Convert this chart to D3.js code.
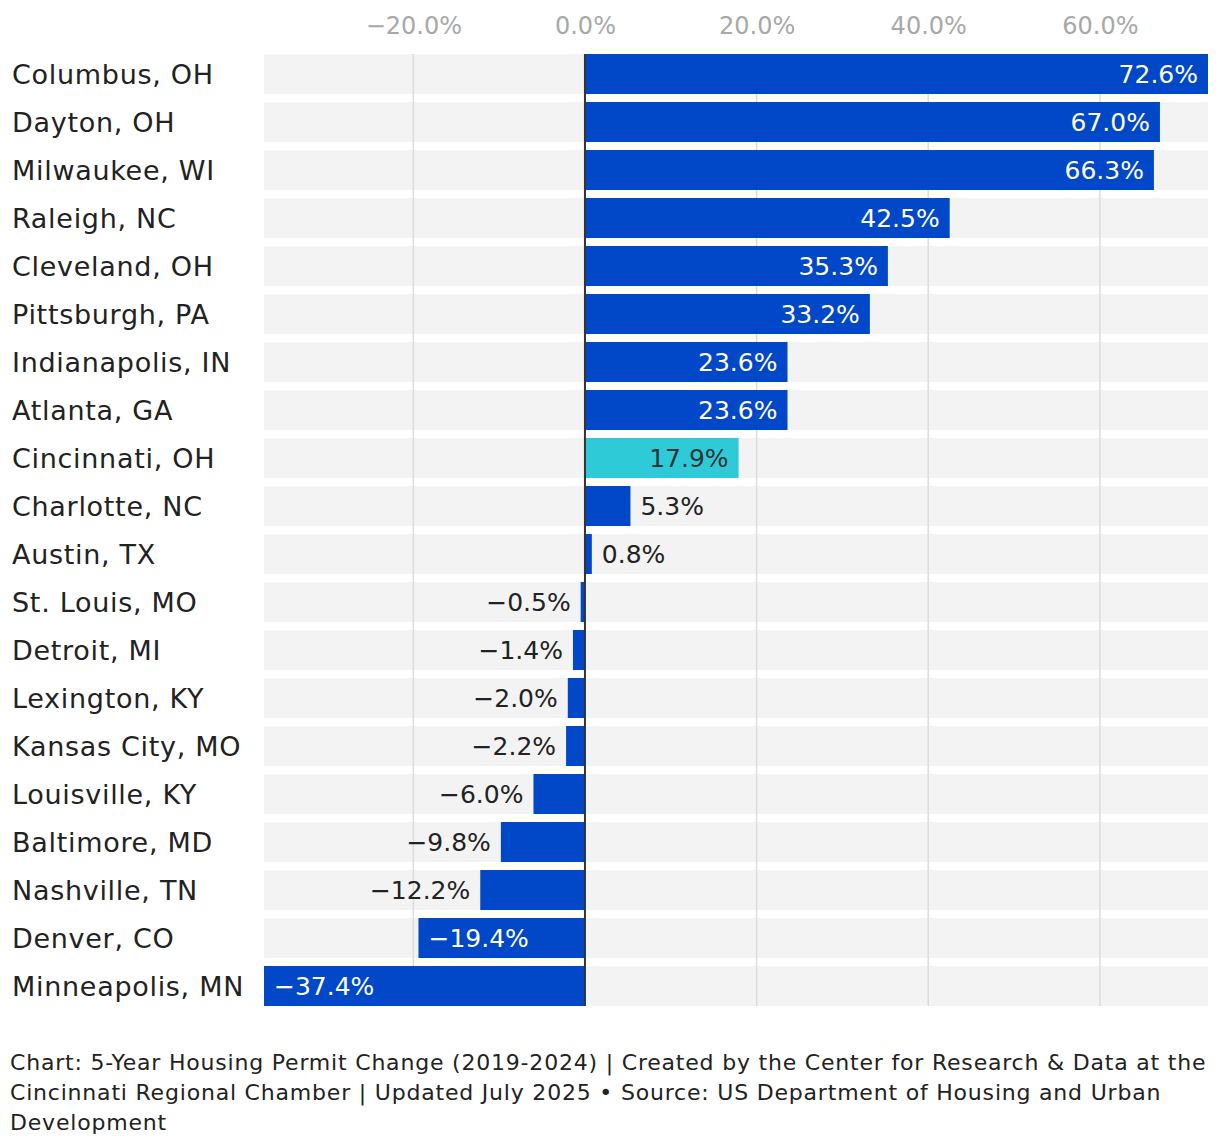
<!DOCTYPE html>
<html>
<head>
<meta charset="utf-8">
<script src="https://d3js.org/d3.v7.min.js"></script>
<style>
  body { margin: 0; background: #fff; }
  text { font-family: "DejaVu Sans", sans-serif; }
</style>
</head>
<body>
<svg width="1220" height="1146"></svg>
<script>
// Data
const cities = ["Columbus, OH", "Dayton, OH", "Milwaukee, WI", "Raleigh, NC", "Cleveland, OH",
  "Pittsburgh, PA", "Indianapolis, IN", "Atlanta, GA", "Cincinnati, OH", "Charlotte, NC",
  "Austin, TX", "St. Louis, MO", "Detroit, MI", "Lexington, KY", "Kansas City, MO",
  "Louisville, KY", "Baltimore, MD", "Nashville, TN", "Denver, CO", "Minneapolis, MN"];
const change = [72.6, 67.0, 66.3, 42.5, 35.3, 33.2, 23.6, 23.6, 17.9, 5.3,
  0.8, -0.5, -1.4, -2.0, -2.2, -6.0, -9.8, -12.2, -19.4, -37.4];
const tickValues = [-20, 0, 20, 40, 60];
const highlight = "Cincinnati, OH";
const footer = [
  "Chart: 5-Year Housing Permit Change (2019-2024) | Created by the Center for Research & Data at the",
  "Cincinnati Regional Chamber | Updated July 2025 \u2022 Source: US Department of Housing and Urban",
  "Development"
];

const rows = cities.map((c, i) => ({ city: c, value: change[i] }));

const svg = d3.select("svg");
const plotLeft = 264, plotRight = 1208, plotTop = 54, plotBottom = 1006;

const x = d3.scaleLinear().domain([-37.4, 72.6]).range([plotLeft, plotRight]);
const y = d3.scaleBand().domain(cities).range([plotTop, plotBottom]).paddingInner(1 / 6).paddingOuter(0);
const fmt = v => d3.format(".1f")(v) + "%";

// row backgrounds
svg.append("g").selectAll("rect").data(rows).enter().append("rect")
  .attr("x", plotLeft).attr("width", plotRight - plotLeft)
  .attr("y", d => y(d.city)).attr("height", y.bandwidth())
  .attr("fill", "#f3f3f3");

// grid
svg.append("g").selectAll("line").data(tickValues.filter(t => t !== 0)).enter().append("line")
  .attr("x1", d => x(d)).attr("x2", d => x(d))
  .attr("y1", plotTop).attr("y2", plotBottom)
  .attr("stroke", "#dcdcdc").attr("stroke-width", 1.5);

// axis labels on top
const axis = svg.append("g").attr("transform", `translate(0,37)`)
  .call(d3.axisTop(x).tickValues(tickValues).tickFormat(d => d3.format(".1f")(d) + "%").tickSize(0));
axis.select(".domain").remove();
axis.selectAll("text").attr("fill", "#a8a8a8").attr("font-size", 24)
  .attr("font-family", "DejaVu Sans, sans-serif").attr("dy", 0);

// bars
svg.append("g").selectAll("rect").data(rows).enter().append("rect")
  .attr("x", d => x(Math.min(0, d.value)))
  .attr("width", d => Math.abs(x(d.value) - x(0)))
  .attr("y", d => y(d.city)).attr("height", y.bandwidth())
  .attr("fill", d => d.city === highlight ? "#2fcad8" : "#0048c8");

// zero line
svg.append("line")
  .attr("x1", x(0)).attr("x2", x(0)).attr("y1", plotTop).attr("y2", plotBottom)
  .attr("stroke", "#333").attr("stroke-width", 2);

// category labels
svg.append("g").selectAll("text").data(rows).enter().append("text")
  .attr("x", 12).attr("y", d => y(d.city) + y.bandwidth() / 2)
  .attr("dy", "0.36em")
  .attr("font-size", 27).attr("letter-spacing", 0.7).attr("fill", "#222")
  .text(d => d.city);

// value labels
const labels = svg.append("g").selectAll("text").data(rows).enter().append("text")
  .attr("y", d => y(d.city) + y.bandwidth() / 2)
  .attr("dy", "0.36em")
  .attr("font-size", 25)
  .text(d => fmt(d.value));

labels.each(function (d) {
  const t = d3.select(this);
  const w = this.getComputedTextLength();
  const barW = Math.abs(x(d.value) - x(0));
  const inside = w + 20 < barW;
  const pos = d.value >= 0;
  const color = inside ? (d.city === highlight ? "#333" : "#fff") : "#222";
  if (inside) {
    t.attr("x", pos ? x(d.value) - 10 : x(d.value) + 10)
      .attr("text-anchor", pos ? "end" : "start");
  } else {
    t.attr("x", pos ? x(d.value) + 10 : x(d.value) - 10)
      .attr("text-anchor", pos ? "start" : "end");
  }
  t.attr("fill", color);
});

// footer
svg.append("g").selectAll("text").data(footer).enter().append("text")
  .attr("x", 10).attr("y", (d, i) => 1070 + i * 30)
  .attr("font-size", 22).attr("letter-spacing", 0.8).attr("fill", "#222")
  .text(d => d);
</script>
</body>
</html>
